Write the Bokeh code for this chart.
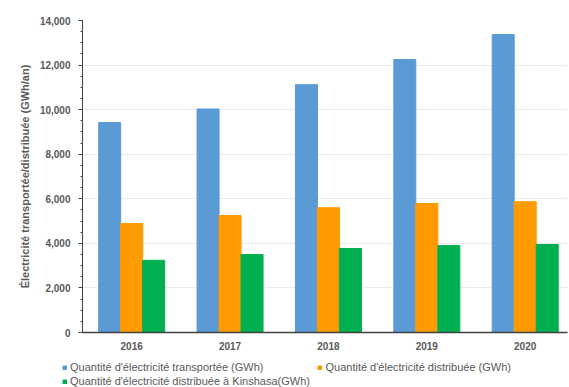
from bokeh.plotting import figure
from bokeh.layouts import column
from bokeh.models import ColumnDataSource, Range1d, FixedTicker, Legend, LegendItem, NumeralTickFormatter
from bokeh.transform import dodge
from bokeh.embed import file_html
from bokeh.resources import INLINE

years = ["2016", "2017", "2018", "2019", "2020"]
transportee = [9420, 10030, 11120, 12250, 13370]
distribuee = [4890, 5250, 5600, 5790, 5870]
kinshasa = [3240, 3500, 3770, 3900, 3950]

labels = [
    "Quantité d'électricité transportée (GWh)",
    "Quantité d'électricité distribuée (GWh)",
    "Quantité d'électricité distribuée à Kinshasa(GWh)",
]
colors = ["#5B9BD5", "#FF9A00", "#00B050"]

idx = list(range(len(years)))
src = ColumnDataSource(dict(x=idx, t=transportee, d=distribuee, k=kinshasa))

FONT = "Liberation Sans"
GREY = "#595959"

p = figure(width=569, height=355, output_backend="svg", toolbar_location=None,
           x_range=Range1d(-0.5, 4.43), y_range=Range1d(0, 14000),
           min_border_left=82, min_border_right=2, min_border_top=20, min_border_bottom=23)
p.outline_line_color = None

w = 0.2236
p.vbar(x=dodge("x", -w, range=p.x_range), top="t", width=w, source=src, color=colors[0])
p.vbar(x=dodge("x", 0, range=p.x_range), top="d", width=w, source=src, color=colors[1])
p.vbar(x=dodge("x", w, range=p.x_range), top="k", width=w, source=src, color=colors[2])

p.xaxis.ticker = FixedTicker(ticks=idx)
p.xaxis.major_label_overrides = {i: y for i, y in zip(idx, years)}
p.xaxis.major_tick_line_color = None
p.xaxis.minor_tick_line_color = None
p.xaxis.axis_line_color = "#404040"
p.xaxis.axis_line_width = 1.5
p.xaxis.major_label_text_font = FONT
p.xaxis.major_label_text_font_style = "bold"
p.xaxis.major_label_text_font_size = "10px"
p.xaxis.major_label_text_color = GREY
p.xaxis.major_label_standoff = 3

p.yaxis.ticker = FixedTicker(ticks=list(range(0, 14001, 2000)),
                             minor_ticks=list(range(0, 14001, 500)))
p.yaxis.formatter = NumeralTickFormatter(format="0,0")
p.yaxis.axis_line_color = "#404040"
p.yaxis.major_tick_line_color = "#404040"
p.yaxis.major_tick_out = 4
p.yaxis.major_tick_in = 0
p.yaxis.minor_tick_line_color = "#404040"
p.yaxis.minor_tick_out = 2
p.yaxis.minor_tick_in = 0
p.yaxis.major_label_text_font = FONT
p.yaxis.major_label_text_font_style = "bold"
p.yaxis.major_label_text_font_size = "10px"
p.yaxis.major_label_text_color = GREY
p.yaxis.major_label_standoff = 8
p.yaxis.axis_label = "Électricité transportée/distribuée (GWh/an)"
p.yaxis.axis_label_text_font = FONT
p.yaxis.axis_label_text_font_style = "bold"
p.yaxis.axis_label_text_font_size = "11px"
p.yaxis.axis_label_text_color = GREY
p.yaxis.axis_label_standoff = 6

p.xgrid.grid_line_color = None
p.ygrid.ticker = FixedTicker(ticks=list(range(2000, 14001, 2000)))
p.ygrid.grid_line_color = "#ebebeb"

# legend strip below the chart (its own renderers are hidden, only the legend shows)
q = figure(width=569, height=32, output_backend="svg", toolbar_location=None,
           x_range=Range1d(-0.5, 4.43), y_range=Range1d(0, 14000),
           x_axis_type=None, y_axis_type=None,
           min_border_left=0, min_border_right=0, min_border_top=0, min_border_bottom=0)
q.frame_align = False
q.outline_line_color = None
q.xgrid.grid_line_color = None
q.ygrid.grid_line_color = None
k1 = q.vbar(x="x", top="t", width=w, source=src, color=colors[0], visible=False)
k2 = q.vbar(x="x", top="d", width=w, source=src, color=colors[1], visible=False)
k3 = q.vbar(x="x", top="k", width=w, source=src, color=colors[2], visible=False)


def style(lg):
    lg.label_text_font = FONT
    lg.label_text_font_size = "11px"
    lg.label_text_color = GREY
    lg.glyph_width = 5
    lg.glyph_height = 5
    lg.label_height = 12
    lg.label_standoff = 3
    lg.padding = 0
    lg.margin = 0
    lg.border_line_color = None
    lg.background_fill_alpha = 0
    lg.inactive_fill_alpha = 0
    return lg


leg1 = style(Legend(items=[LegendItem(label=labels[0], renderers=[k1]),
                           LegendItem(label=labels[1], renderers=[k2])],
                    location=(62, 14), orientation="horizontal"))
leg1.spacing = 54
leg2 = style(Legend(items=[LegendItem(label=labels[2], renderers=[k3])],
                    location=(62, 0), orientation="horizontal"))
q.add_layout(leg1, "center")
q.add_layout(leg2, "center")

layout = column(p, q, spacing=0)
open("out.html", "w").write(file_html(layout, INLINE))
